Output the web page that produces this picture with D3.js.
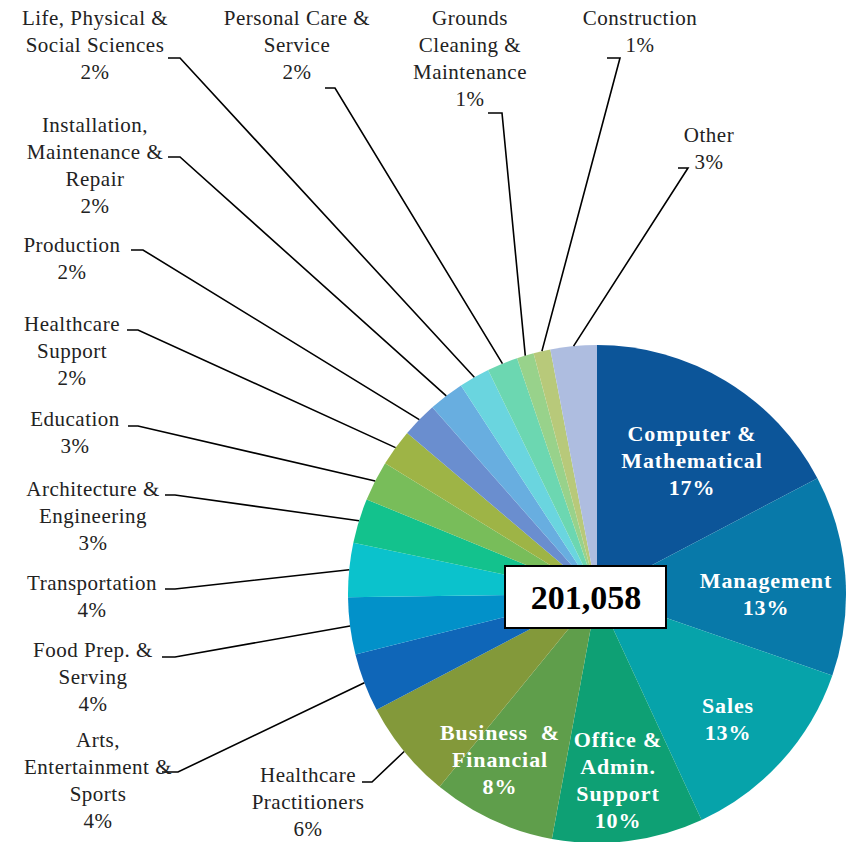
<!doctype html>
<html lang="en">
<head>
<meta charset="utf-8">
<script src="https://d3js.org/d3.v7.min.js"></script>
<style>
  body { margin: 0; background: #fff; }
  text { font-family: "Liberation Serif", "DejaVu Serif", serif; }
</style>
</head>
<body>
<svg id="svg1" width="856" height="842"></svg>
<script>
// occupations, clockwise from 12 o'clock
const occupations = [
  "Computer & Mathematical", "Management", "Sales", "Office & Admin. Support",
  "Business & Financial", "Healthcare Practitioners", "Arts, Entertainment & Sports",
  "Food Prep. & Serving", "Transportation", "Architecture & Engineering", "Education",
  "Healthcare Support", "Production", "Installation, Maintenance & Repair",
  "Life, Physical & Social Sciences", "Personal Care & Service",
  "Grounds Cleaning & Maintenance", "Construction", "Other"
];
// share of total (%)
const shares = [17.3, 13.0, 12.8, 9.8, 8.0, 6.4, 3.8, 3.7, 3.5, 2.9, 2.6, 2.4, 2.3, 2.3, 2.0, 2.0, 1.1, 1.1, 3.0];
const total = 201058;

// label lines as they are broken in the chart
const labelLines = [
  ["Computer &", "Mathematical"], ["Management"], ["Sales"], ["Office &", "Admin.", "Support"],
  ["Business  &", "Financial"], ["Healthcare", "Practitioners"], ["Arts,", "Entertainment &", "Sports"],
  ["Food Prep. &", "Serving"], ["Transportation"], ["Architecture &", "Engineering"], ["Education"],
  ["Healthcare", "Support"], ["Production"], ["Installation,", "Maintenance &", "Repair"],
  ["Life, Physical &", "Social Sciences"], ["Personal Care &", "Service"],
  ["Grounds", "Cleaning &", "Maintenance"], ["Construction"], ["Other"]
];

const colors = [
  "#0c5599", "#0879a9", "#06a3aa", "#0ea074", "#5f9e4b", "#83993a", "#0f66b8",
  "#0291c9", "#0bc2cc", "#13c28d", "#78bd5a", "#9eb446", "#6a8ecf", "#68aee0",
  "#6ad5df", "#6cd7b1", "#98d28b", "#b8c97a", "#aebde0"
];

// label layout: [centre x, first line y, inside?, elbow x1, elbow x2, elbow y]
const labelLayout = [
  [692, 441, true], [766, 588, true], [728, 713, true], [618, 747, true], [500, 740, true],
  [308, 782, false, 372, 362, 782],
  [98, 747, false, 178, 162, 772],
  [93, 657, false, 175, 162, 657],
  [92, 590, false, 175, 165, 589],
  [93, 496, false, 175, 165, 495],
  [75, 426, false, 138, 128, 426],
  [72, 331, false, 138, 127, 330],
  [72, 252, false, 143, 131, 250],
  [95, 132, false, 180, 168, 157],
  [95, 25, false, 180, 168, 58],
  [297, 25, false, 335, 325, 88],
  [470, 25, false, 502, 488, 113],
  [640, 25, false, 620, 607, 58],
  [709, 142, false, 688, 678, 168]
];

const cx = 597, cy = 594, radius = 249, lineH = 27;
const svg = d3.select("#svg1");

const data = occupations.map((name, i) => ({ name, share: shares[i], i }));
const pie = d3.pie().sort(null).value(d => d.share);
const arcs = pie(data);
const arc = d3.arc().innerRadius(0).outerRadius(radius);

const g = svg.append("g").attr("transform", `translate(${cx},${cy})`);

g.selectAll("path.slice")
  .data(arcs)
  .join("path")
  .attr("class", "slice")
  .attr("d", arc)
  .attr("fill", d => colors[d.data.i]);

const pct = d3.format(".0f");
const sumShares = d3.sum(shares);

// leader lines for outside labels
arcs.forEach(d => {
  const lay = labelLayout[d.data.i];
  if (lay[2]) return;
  const mid = (d.startAngle + d.endAngle) / 2;
  const ex = cx + radius * Math.sin(mid), ey = cy - radius * Math.cos(mid);
  svg.append("polyline")
    .attr("points", `${lay[4]},${lay[5]} ${lay[3]},${lay[5]} ${ex},${ey}`)
    .attr("fill", "none")
    .attr("stroke", "#000")
    .attr("stroke-width", 1.6);
});

// labels
arcs.forEach(d => {
  const i = d.data.i, lay = labelLayout[i];
  const lines = labelLines[i].concat([pct(d.data.share / sumShares * 100) + "%"]);
  const t = svg.append("text")
    .attr("text-anchor", "middle")
    .attr("font-size", lay[2] ? 22 : 21)
    .attr("letter-spacing", lay[2] ? 0.9 : 0.5)
    .attr("font-weight", lay[2] ? "bold" : "normal")
    .attr("fill", lay[2] ? "#fff" : "#222");
  lines.forEach((s, k) => {
    t.append("tspan")
      .attr("x", lay[0])
      .attr("y", lay[1] + k * lineH)
      .attr("xml:space", "preserve")
      .text(s);
  });
});

// centre total box
svg.append("rect")
  .attr("x", 505).attr("y", 566)
  .attr("width", 161).attr("height", 62)
  .attr("fill", "#fff").attr("stroke", "#000").attr("stroke-width", 2);
svg.append("text")
  .attr("x", 586).attr("y", 609)
  .attr("text-anchor", "middle")
  .attr("font-size", 34).attr("font-weight", "bold")
  .attr("fill", "#000")
  .text(d3.format(",")(total));
</script>
</body>
</html>
